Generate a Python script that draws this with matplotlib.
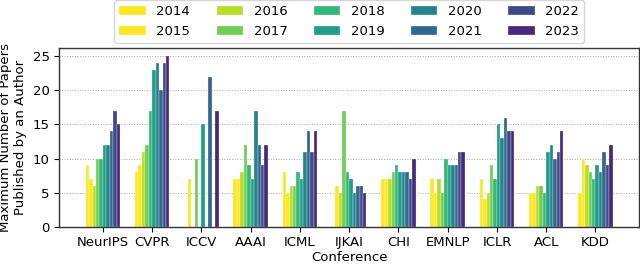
import numpy as np
import matplotlib
matplotlib.use("Agg")
from matplotlib import pyplot as plt

conferences = ["NeurIPS", "CVPR", "ICCV", "AAAI", "ICML", "IJKAI",
               "CHI", "EMNLP", "ICLR", "ACL", "KDD"]
years = ["2014", "2015", "2016", "2017", "2018",
         "2019", "2020", "2021", "2022", "2023"]

# max papers per author, one list per conference (2014..2023)
neurips = [9, 7, 6, 10, 10, 12, 12, 14, 17, 15]
cvpr = [8, 9, 11, 12, 17, 23, 24, 20, 24, 25]
iccv = [0, 7, 0, 10, 0, 15, 0, 22, 0, 17]
aaai = [7, 7, 8, 12, 9, 7, 17, 12, 9, 12]
icml = [8, 5, 6, 6, 8, 7, 11, 14, 11, 14]
ijkai = [0, 6, 5, 17, 8, 7, 5, 6, 6, 5]
chi = [7, 7, 7, 8, 9, 8, 8, 8, 7, 10]
emnlp = [7, 5, 7, 5, 10, 9, 9, 9, 11, 11]
iclr = [7, 4, 5, 9, 7, 15, 13, 16, 14, 14]
acl = [5, 5, 6, 6, 5, 11, 12, 10, 11, 14]
kdd = [5, 10, 9, 8, 7, 9, 8, 11, 9, 12]

colors = ["#fde725", "#fde725", "#b5de2b", "#6ece58", "#35b779",
          "#1f9e89", "#26828e", "#31688e", "#3e4989", "#482878"]


def main():
    table = np.array([neurips, cvpr, iccv, aaai, icml, ijkai,
                      chi, emnlp, iclr, acl, kdd])
    x = np.arange(len(conferences))
    width = 0.07
    fs = 9.5

    fig = plt.figure(figsize=(6.4, 2.65), dpi=100)
    ax = fig.add_axes([0.0927, 0.1445, 0.9058, 0.6755])
    ax.set_axisbelow(True)
    ax.grid(axis="y", linestyle=":", color="#aaaaaa", linewidth=0.7)

    for i, year in enumerate(years):
        ax.bar(x + (i - 4.5) * width, table[:, i], width, color=colors[i],
               label=year, edgecolor="white", linewidth=0.2)

    ax.set_xticks(x)
    ax.set_xticklabels(conferences, fontsize=fs)
    ax.tick_params(axis="y", labelsize=fs)
    ax.set_yticks([0, 5, 10, 15, 20, 25])
    ax.set_xlabel("Conference", fontsize=fs, labelpad=1)
    ax.set_ylabel("Maximum Number of Papers\nPublished by an Author", fontsize=fs)
    for sp in ax.spines.values():
        sp.set_color("#333333")
        sp.set_linewidth(1.0)

    ax.legend(loc="lower center", bbox_to_anchor=(0.5, 1.0), ncol=5,
              fontsize=fs, borderaxespad=0.35)

    plt.savefig("out.png", dpi=100)


if __name__ == "__main__":
    main()
